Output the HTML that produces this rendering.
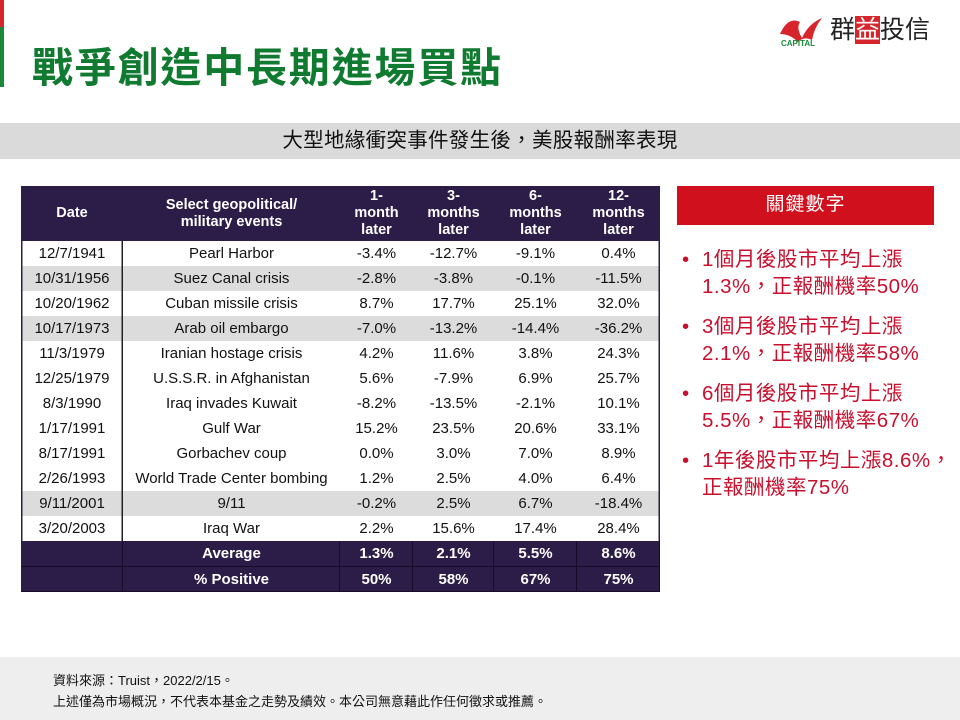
<!DOCTYPE html>
<html><head><meta charset="utf-8"><style>
*{margin:0;padding:0;box-sizing:border-box}
body{width:960px;height:720px;background:#fff;position:relative;overflow:hidden;font-family:"Liberation Sans","Noto Sans CJK TC",sans-serif}
.abs{position:absolute}
table{position:absolute;left:21px;top:186px;border-collapse:collapse;font-family:"Liberation Sans",sans-serif;font-size:15px;color:#111;table-layout:fixed}
td{height:25px;text-align:center;padding:0;line-height:25px;white-space:nowrap}
thead td{background:#2b1d47;color:#fff;font-weight:bold;line-height:17px;height:55px;font-size:14.5px}
tr.g td{background:#dcdcdc}
tr.s td{background:#2b1d47;color:#fff;font-weight:bold;box-shadow:inset 0 -1px 0 #150c28, inset -1px 0 0 #150c28;height:25.5px;line-height:25.5px}
td.ol{box-shadow:inset -1.5px 0 0 #222, inset 1.5px 0 0 #2b1d47}
td.or{box-shadow:inset -1.5px 0 0 #2b1d47}
.kp{font-family:"Liberation Sans","Noto Sans CJK TC",sans-serif;color:#c8102e;font-size:20.5px;line-height:27px;letter-spacing:0.5px}
.kp div{position:relative;padding-left:20px;margin-bottom:13px;white-space:nowrap}
.kp span{position:absolute;left:0}
</style></head><body>
<div class="abs" style="left:0;top:0;width:4px;height:27px;background:#d7262b"></div>
<div class="abs" style="left:0;top:27px;width:4px;height:60px;background:#1a8a3a"></div>
<div class="abs" style="left:32px;top:34px;font-size:41px;font-weight:bold;color:#0f7a30;letter-spacing:1.8px;white-space:nowrap">戰爭創造中長期進場買點</div>
<svg class="abs" style="left:778px;top:14px" width="50" height="34"><path d="M2 20 Q10 2 22 8 Q18 14 24 24 Q30 10 44 4 Q36 14 34 26 Q26 22 20 28 Q12 20 2 20Z" fill="#d7262b"/><text x="3" y="32" font-size="8" font-weight="bold" fill="#1a8a3a" font-family="Liberation Sans">CAPITAL</text></svg>
<div class="abs" style="left:830px;top:14px;font-size:25px;color:#222;white-space:nowrap;line-height:32px">群<span style="background:#d7262b;color:#fff">益</span>投信</div>
<div class="abs" style="left:0;top:123px;width:960px;height:36px;background:#dadada"></div>
<div class="abs" style="left:0;top:123px;width:960px;text-align:center;font-size:20.5px;line-height:36px;color:#111;letter-spacing:0.3px">大型地緣衝突事件發生後，美股報酬率表現</div>
<table>
<colgroup><col style="width:102px"><col style="width:217px"><col style="width:73px"><col style="width:81px"><col style="width:83px"><col style="width:83px"></colgroup>
<thead><tr><td>Date</td><td>Select geopolitical/<br>military events</td><td>1-<br>month<br>later</td><td>3-<br>months<br>later</td><td>6-<br>months<br>later</td><td>12-<br>months<br>later</td></tr></thead>
<tbody>
<tr><td class="ol">12/7/1941</td><td>Pearl Harbor</td><td>-3.4%</td><td>-12.7%</td><td>-9.1%</td><td class="or">0.4%</td></tr>
<tr class="g"><td class="ol">10/31/1956</td><td>Suez Canal crisis</td><td>-2.8%</td><td>-3.8%</td><td>-0.1%</td><td class="or">-11.5%</td></tr>
<tr><td class="ol">10/20/1962</td><td>Cuban missile crisis</td><td>8.7%</td><td>17.7%</td><td>25.1%</td><td class="or">32.0%</td></tr>
<tr class="g"><td class="ol">10/17/1973</td><td>Arab oil embargo</td><td>-7.0%</td><td>-13.2%</td><td>-14.4%</td><td class="or">-36.2%</td></tr>
<tr><td class="ol">11/3/1979</td><td>Iranian hostage crisis</td><td>4.2%</td><td>11.6%</td><td>3.8%</td><td class="or">24.3%</td></tr>
<tr><td class="ol">12/25/1979</td><td>U.S.S.R. in Afghanistan</td><td>5.6%</td><td>-7.9%</td><td>6.9%</td><td class="or">25.7%</td></tr>
<tr><td class="ol">8/3/1990</td><td>Iraq invades Kuwait</td><td>-8.2%</td><td>-13.5%</td><td>-2.1%</td><td class="or">10.1%</td></tr>
<tr><td class="ol">1/17/1991</td><td>Gulf War</td><td>15.2%</td><td>23.5%</td><td>20.6%</td><td class="or">33.1%</td></tr>
<tr><td class="ol">8/17/1991</td><td>Gorbachev coup</td><td>0.0%</td><td>3.0%</td><td>7.0%</td><td class="or">8.9%</td></tr>
<tr><td class="ol">2/26/1993</td><td>World Trade Center bombing</td><td>1.2%</td><td>2.5%</td><td>4.0%</td><td class="or">6.4%</td></tr>
<tr class="g"><td class="ol">9/11/2001</td><td>9/11</td><td>-0.2%</td><td>2.5%</td><td>6.7%</td><td class="or">-18.4%</td></tr>
<tr><td class="ol">3/20/2003</td><td>Iraq War</td><td>2.2%</td><td>15.6%</td><td>17.4%</td><td class="or">28.4%</td></tr>
<tr class="s"><td></td><td>Average</td><td>1.3%</td><td>2.1%</td><td>5.5%</td><td>8.6%</td></tr>
<tr class="s"><td></td><td>% Positive</td><td>50%</td><td>58%</td><td>67%</td><td>75%</td></tr>
</tbody></table>
<div class="abs" style="left:677px;top:186px;width:257px;height:39px;background:#d0101c;color:#fff;font-size:19px;text-align:center;line-height:38px;letter-spacing:1px">關鍵數字</div>
<div class="abs kp" style="left:682px;top:246px;width:278px">
<div><span>•</span>1個月後股市平均上漲<br>1.3%，正報酬機率50%</div>
<div><span>•</span>3個月後股市平均上漲<br>2.1%，正報酬機率58%</div>
<div><span>•</span>6個月後股市平均上漲<br>5.5%，正報酬機率67%</div>
<div><span>•</span>1年後股市平均上漲8.6%，<br>正報酬機率75%</div>
</div>
<div class="abs" style="left:0;top:657px;width:960px;height:63px;background:#eeeeee"></div>
<div class="abs" style="left:53px;top:670px;font-size:13px;line-height:21px;color:#111;white-space:nowrap">資料來源：Truist，2022/2/15。<br>上述僅為市場概況，不代表本基金之走勢及績效。本公司無意藉此作任何徵求或推薦。</div>
</body></html>
